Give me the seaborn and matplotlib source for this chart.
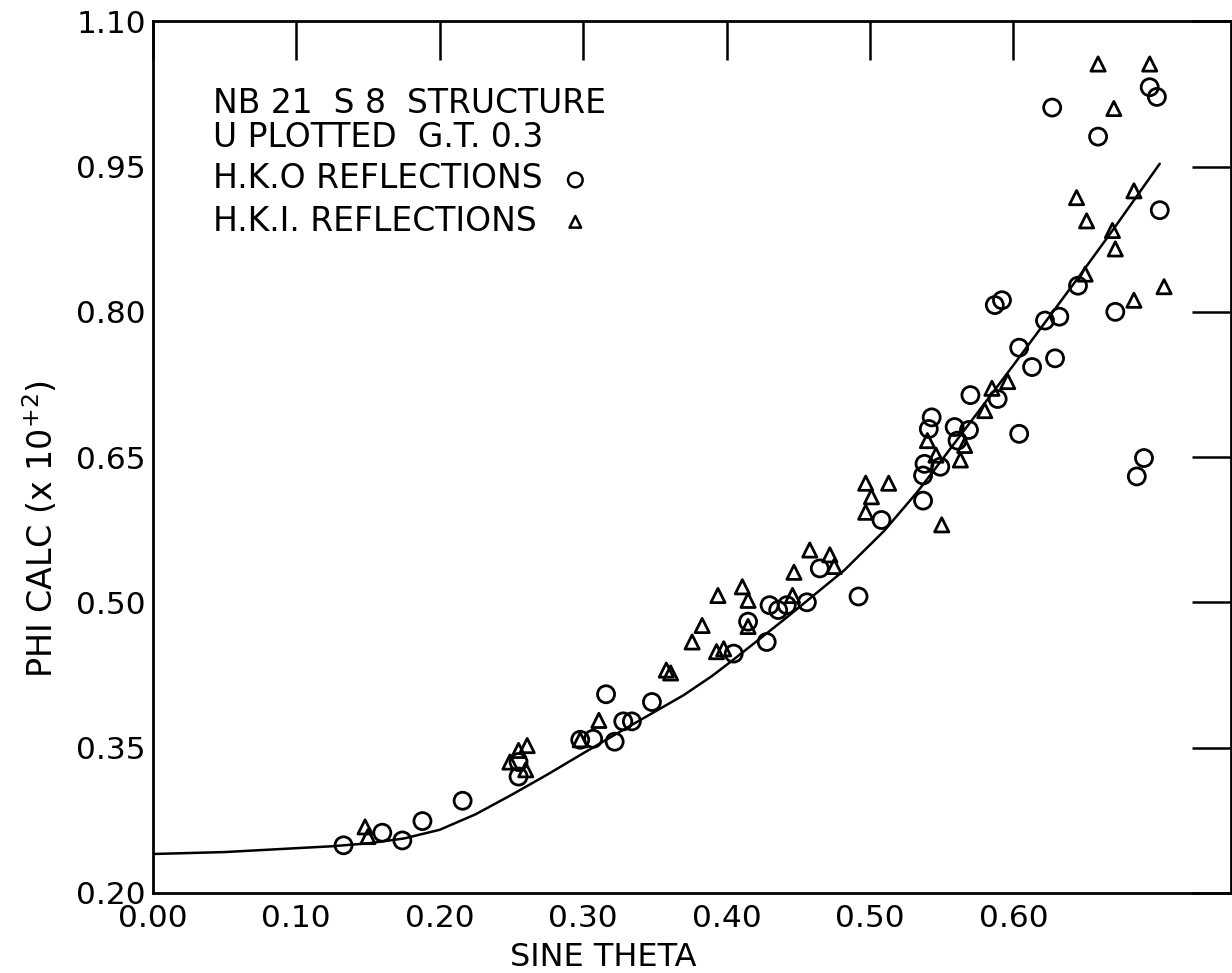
import numpy as np
import pandas as pd
import matplotlib
matplotlib.use('Agg')
import matplotlib.pyplot as plt
import seaborn as sns

# ── DATA ────────────────────────────────────────────────────────────────────
# smooth fitted curve
curve_x = [0.000, 0.050, 0.100, 0.125, 0.150, 0.175, 0.200, 0.225, 0.250,
           0.275, 0.300, 0.330, 0.350, 0.370, 0.390, 0.405, 0.440, 0.482,
           0.510, 0.533, 0.547, 0.572, 0.600, 0.622, 0.645, 0.670, 0.702]
curve_y = [0.240, 0.242, 0.246, 0.248, 0.251, 0.256, 0.265, 0.281, 0.301,
           0.322, 0.344, 0.370, 0.387, 0.404, 0.424, 0.441, 0.482, 0.533,
           0.574, 0.614, 0.641, 0.690, 0.745, 0.789, 0.835, 0.886, 0.953]

# H.K.0 reflections (circles)
hk0_x = [0.133, 0.160, 0.174, 0.188, 0.216, 0.255, 0.255, 0.298, 0.307, 0.316,
         0.322, 0.328, 0.334, 0.348, 0.405, 0.415, 0.428, 0.430, 0.436, 0.442,
         0.456, 0.465, 0.492, 0.508, 0.537, 0.537, 0.538, 0.541, 0.543, 0.549,
         0.559, 0.561, 0.569, 0.570, 0.589, 0.587, 0.592, 0.604, 0.604, 0.613,
         0.622, 0.629, 0.632, 0.627, 0.645, 0.659, 0.671, 0.686, 0.691, 0.695,
         0.700, 0.702]
hk0_y = [0.249, 0.262, 0.254, 0.274, 0.295, 0.320, 0.335, 0.358, 0.359, 0.405,
         0.356, 0.377, 0.377, 0.397, 0.447, 0.480, 0.459, 0.497, 0.492, 0.497,
         0.500, 0.535, 0.506, 0.585, 0.605, 0.631, 0.643, 0.679, 0.691, 0.640,
         0.681, 0.667, 0.678, 0.714, 0.710, 0.807, 0.812, 0.674, 0.763, 0.743,
         0.791, 0.752, 0.795, 1.011, 0.827, 0.981, 0.800, 0.630, 0.649, 1.032,
         1.022, 0.905]

# H.K.1 reflections (triangles)
hk1_x = [0.148, 0.150, 0.249, 0.255, 0.261, 0.260, 0.298, 0.311, 0.358, 0.361,
         0.376, 0.383, 0.393, 0.394, 0.398, 0.411, 0.415, 0.415, 0.446, 0.447,
         0.458, 0.472, 0.475, 0.497, 0.501, 0.497, 0.513, 0.540, 0.546, 0.550,
         0.563, 0.566, 0.580, 0.585, 0.596, 0.644, 0.650, 0.651, 0.659, 0.669,
         0.670, 0.671, 0.684, 0.684, 0.695, 0.705]
hk1_y = [0.268, 0.258, 0.335, 0.347, 0.352, 0.327, 0.358, 0.378, 0.430, 0.427,
         0.459, 0.476, 0.449, 0.507, 0.452, 0.516, 0.502, 0.475, 0.507, 0.531,
         0.554, 0.549, 0.537, 0.623, 0.609, 0.593, 0.623, 0.667, 0.652, 0.580,
         0.647, 0.662, 0.698, 0.721, 0.728, 0.918, 0.839, 0.894, 1.056, 0.884,
         1.010, 0.865, 0.812, 0.925, 1.056, 0.826]

XTICKS = [0.00, 0.10, 0.20, 0.30, 0.40, 0.50, 0.60]
YTICKS = [0.20, 0.35, 0.50, 0.65, 0.80, 0.95, 1.10]
NOTE_LINES = ["NB 21  S 8  STRUCTURE", "U PLOTTED  G.T. 0.3",
              "H.K.O REFLECTIONS", "H.K.I. REFLECTIONS"]

# ── STYLE ───────────────────────────────────────────────────────────────────
sns.set_theme(style="white")
plt.rcParams['font.family'] = ['DejaVu Sans']
plt.rcParams['mathtext.fontset'] = 'dejavusans'
plt.rcParams['text.color'] = 'black'
plt.rcParams['axes.labelcolor'] = 'black'

fig = plt.figure(figsize=(12.32, 9.73), dpi=100)
ax = fig.add_axes([0.124, 0.0825, 0.875, 0.8955])

sns.lineplot(x=curve_x, y=curve_y, color='black', linewidth=1.8,
             sort=False, estimator=None, ax=ax)
sns.scatterplot(x=hk0_x, y=hk0_y, marker='o', s=150, facecolor='none',
                edgecolor='black', linewidth=2.0, ax=ax, zorder=3)
sns.scatterplot(x=hk1_x, y=hk1_y, marker='^', s=105, facecolor='none',
                edgecolor='black', linewidth=2.0, ax=ax, zorder=3)

ax.set_xlim(0.0, 0.7515)
ax.set_ylim(0.2, 1.1)
ax.set_xticks(XTICKS)
ax.set_yticks(YTICKS)
ax.set_xticklabels([f"{t:.2f}" for t in XTICKS])
ax.set_yticklabels([f"{t:.2f}" for t in YTICKS])
ax.tick_params(direction='in', length=28, width=1.8, colors='black',
               labelsize=22.5, top=True, right=True, pad=8)
ax.tick_params(axis='y', pad=5)
for sp in ax.spines.values():
    sp.set_visible(True)
    sp.set_color('black')
    sp.set_linewidth(2.0)

ax.set_xlabel("SINE THETA", fontsize=23)
ax.set_ylabel(r"PHI CALC (x 10$^{+2}$)", fontsize=24)
ax.xaxis.set_label_coords(0.418, -0.056)
ax.yaxis.set_label_coords(-0.086, 0.418)

# annotation block with its marker keys
ys = [0.906, 0.867, 0.820, 0.770]
for line, yy in zip(NOTE_LINES, ys):
    ax.text(0.056, yy, line, transform=ax.transAxes, fontsize=23.8,
            va='center', ha='left', color='black')
ax.scatter([0.392], [0.818], transform=ax.transAxes, marker='o', s=110,
           facecolor='none', edgecolor='black', linewidth=1.8)
ax.scatter([0.392], [0.770], transform=ax.transAxes, marker='^', s=70,
           facecolor='none', edgecolor='black', linewidth=1.8)

plt.savefig('out.png', dpi=100)
plt.close()
